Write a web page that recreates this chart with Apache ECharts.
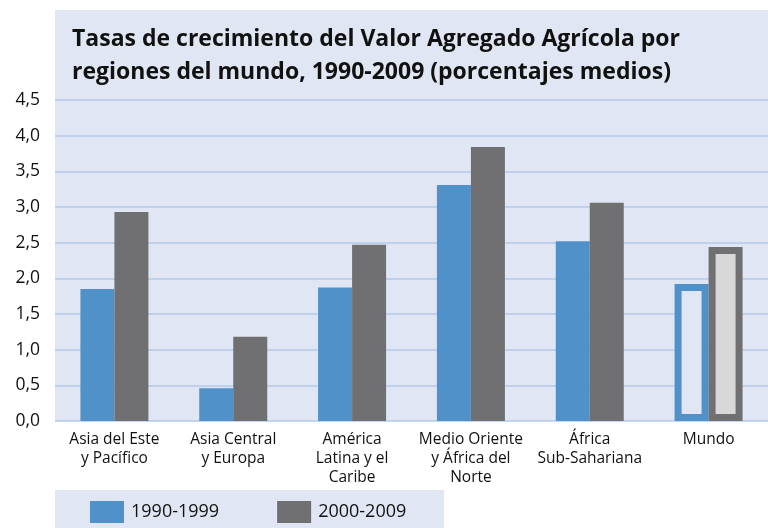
<!DOCTYPE html>
<html>
<head>
<meta charset="utf-8">
<style>
  html, body { margin: 0; padding: 0; background: #fff; }
  #chart { width: 768px; height: 528px; }
</style>
</head>
<body>
<div id="chart"></div>
<script src="https://cdn.jsdelivr.net/npm/echarts@6/dist/echarts.min.js"></script>
<script>
// datos
var regiones = ['Asia del Este\ny Pacífico', 'Asia Central\ny Europa', 'América\nLatina y el\nCaribe',
  'Medio Oriente\ny África del\nNorte', 'África\nSub-Sahariana', 'Mundo'];
var serie1990 = [1.85, 0.46, 1.87, 3.31, 2.52, 1.92];
var serie2000 = [2.93, 1.18, 2.47, 3.84, 3.06, 2.44];
var yTicks = [0, 0.5, 1, 1.5, 2, 2.5, 3, 3.5, 4, 4.5];

var azul = '#5091c9', gris = '#707072', fondo = '#e0e6f3';
var font = 'Open Sans';

function armar(vals, color, relleno) {
  return vals.map(function (v, i) {
    if (i == vals.length - 1) {
      // Mundo: barra con contorno
      return { value: v, itemStyle: { color: relleno, borderColor: color, borderWidth: 7 } };
    }
    return v;
  });
}

var chart = echarts.init(document.getElementById('chart'));
var option = {
  animation: false,
  graphic: [
    { type: 'rect', z: -10, shape: { x: 55, y: 10, width: 713, height: 411 }, style: { fill: fondo } },
    { type: 'rect', z: -10, shape: { x: 55, y: 490, width: 389, height: 38 }, style: { fill: fondo } },
    {
      type: 'text', left: 72, top: 23,
      style: {
        text: 'Tasas de crecimiento del Valor Agregado Agrícola por\nregiones del mundo, 1990-2009 (porcentajes medios)',
        font: 'bold 23px "' + font + '"', fill: '#111', lineHeight: 33
      }
    }
  ],
  grid: { left: 55, right: -1, top: 100, bottom: 107, containLabel: false },
  legend: {
    left: 90, top: 501, padding: 0, itemWidth: 34, itemHeight: 22, itemGap: 58, icon: 'rect',
    textStyle: { fontFamily: font, fontSize: 18, color: '#111', padding: [0, 0, 0, 2] },
    data: [
      { name: '1990-1999', itemStyle: { color: azul, borderWidth: 0 } },
      { name: '2000-2009', itemStyle: { color: gris, borderWidth: 0 } }
    ]
  },
  xAxis: {
    type: 'category', data: regiones,
    axisLine: { show: false }, axisTick: { show: false },
    axisLabel: { fontFamily: font, fontSize: 15.5, color: '#111', lineHeight: 19, margin: 9, interval: 0 }
  },
  yAxis: {
    type: 'value', min: 0, max: 4.5, interval: 0.5,
    axisLine: { show: false }, axisTick: { show: false },
    axisLabel: {
      fontFamily: font, fontSize: 17.5, color: '#111', margin: 15,
      formatter: function (v) { return yTicks.indexOf(v) >= 0 ? v.toFixed(1).replace('.', ',') : ''; }
    },
    splitLine: { lineStyle: { color: '#b3c8e8', width: 1.5 } }
  },
  series: [
    { name: '1990-1999', type: 'bar', barWidth: 34, barGap: 0, itemStyle: { color: azul },
      data: armar(serie1990, azul, fondo) },
    { name: '2000-2009', type: 'bar', barWidth: 34, barGap: 0, itemStyle: { color: gris },
      data: armar(serie2000, gris, '#d8d8d9') }
  ]
};
chart.setOption(option);
</script>
</body>
</html>
